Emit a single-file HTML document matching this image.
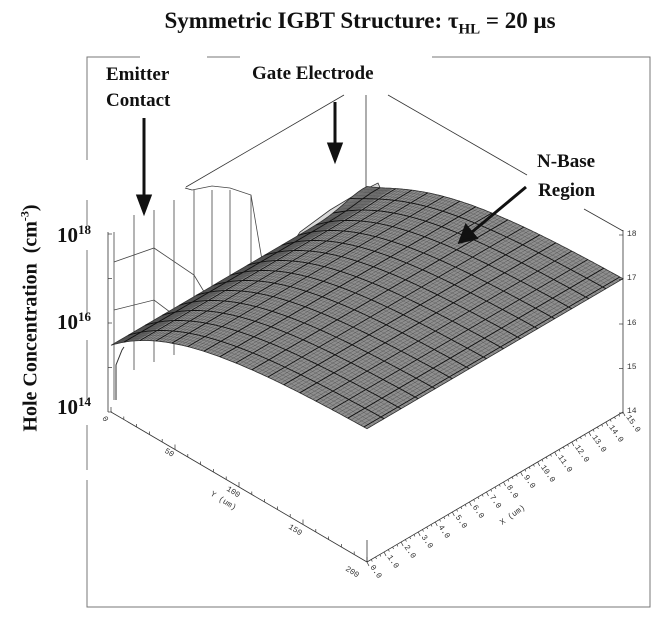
<!DOCTYPE html>
<html><head><meta charset="utf-8"><style>
html,body{margin:0;padding:0;background:#fff;}
body{width:659px;height:629px;overflow:hidden;position:relative;font-family:"Liberation Serif",serif;}
.t{position:absolute;font-weight:bold;color:#111;white-space:nowrap;}
</style></head><body>
<svg id="s" width="659" height="629" style="position:absolute;left:0;top:0" xmlns="http://www.w3.org/2000/svg">
<g stroke="#777" stroke-width="1" fill="none">
<polyline points="87,160 87,57 140,57"/><line x1="207" y1="57" x2="240" y2="57"/><polyline points="432,57 650,57 650,607 87,607 87,480"/>
<line x1="87" y1="200" x2="87" y2="225"/><line x1="87" y1="250" x2="87" y2="315"/><line x1="87" y1="340" x2="87" y2="400"/><line x1="87" y1="425" x2="87" y2="470"/>
</g>
<g id="axes" stroke="#333" stroke-width="0.8" fill="none">
<line x1="108" y1="232" x2="108" y2="412"/>
<line x1="623" y1="230" x2="623" y2="412"/>
<line x1="111" y1="412" x2="367" y2="562"/>
<line x1="367" y1="562" x2="623" y2="412"/>
<line x1="367" y1="562" x2="367" y2="540"/>
<line x1="366" y1="95" x2="366" y2="190"/>
<line x1="344" y1="95" x2="186" y2="187"/>
<line x1="388" y1="95" x2="527" y2="175"/>
<line x1="584" y1="209" x2="623" y2="231"/>
<line x1="185" y1="188" x2="192" y2="190"/>
</g>
<g id="mesh"></g>
<g id="ticks" stroke="#333" stroke-width="0.7"></g>
<g font-family="Liberation Mono,monospace" font-size="8" fill="#333">
<text x="627" y="236">18</text><text x="627" y="280">17</text><text x="627" y="325">16</text><text x="627" y="369">15</text><text x="627" y="413">14</text>
<text transform="translate(102,418) rotate(60)">0</text>
<text transform="translate(164,452) rotate(32)">50</text>
<text transform="translate(226,490) rotate(32)">100</text>
<text transform="translate(210,495) rotate(32)">Y (um)</text>
<text transform="translate(288,528) rotate(32)">150</text>
<text transform="translate(345,570) rotate(32)">200</text>
<text transform="translate(502,525) rotate(-35)">X (um)</text>
</g>
<g id="xl" font-family="Liberation Mono,monospace" font-size="8" fill="#333"></g>
<g stroke="#111" stroke-width="3" fill="#111">
<line x1="144" y1="118" x2="144" y2="198"/><polygon points="138,196 150,196 144,212"/>
<line x1="335" y1="102" x2="335" y2="146"/><polygon points="329,144 341,144 335,160"/>
<line x1="526" y1="187" x2="472" y2="232"/><polygon points="466,226 476,238 460,242"/>
</g>
</svg>
<div class="t" style="left:0;width:720px;text-align:center;top:8px;font-size:23px;">Symmetric IGBT Structure: τ<sub style="font-size:15px">HL</sub> = 20 μs</div>
<div class="t" style="left:106px;top:62px;font-size:19px;line-height:26px;">Emitter<br>Contact</div>
<div class="t" style="left:252px;top:63px;font-size:19px;">Gate Electrode</div>
<div class="t" style="left:537px;top:147px;font-size:19px;line-height:29px;text-align:right;">N-Base<br>Region</div>
<div class="t" style="left:57px;top:222px;font-size:21px;">10<sup style="font-size:13px">18</sup></div>
<div class="t" style="left:57px;top:309px;font-size:21px;">10<sup style="font-size:13px">16</sup></div>
<div class="t" style="left:57px;top:394px;font-size:21px;">10<sup style="font-size:13px">14</sup></div>
<div class="t" style="left:30px;top:318px;font-size:20px;transform:translate(-50%,-50%) rotate(-90deg);">Hole Concentration&nbsp; (cm<sup style="font-size:12px">-3</sup>)</div>
<script>
var NS="http://www.w3.org/2000/svg";
function P(x,y,z){return [111+256*y/200+256*x/15, 412+150*y/200-150*x/15-44.5*(z-14)];}
function Z(x,y){var z=15.5+1.55*(1-Math.exp(-y/60));
 z+=0.2*Math.exp(-Math.pow((x-14.8)/1.5,2))*Math.exp(-y/15);
 return z;}
var m=document.getElementById('mesh');
function el(t,a){var e=document.createElementNS(NS,t);for(var k in a)e.setAttribute(k,a[k]);m.appendChild(e);return e;}
var vx=[[114,232,400],[134,215,370],[154,210,362],[174,200,355],[194,190,345],[212,190,338],[230,190,330],[251,195,320]];
vx.forEach(function(v){el('line',{x1:v[0],y1:v[1],x2:v[0],y2:v[2],stroke:'#444','stroke-width':0.8});});
el('polyline',{points:'114,262 154,248 194,275 212,305 230,300 251,300 270,330',fill:'none',stroke:'#444','stroke-width':0.8});
el('polyline',{points:'114,310 154,300 194,330 230,350',fill:'none',stroke:'#444','stroke-width':0.8});
el('polyline',{points:'192,190 212,186 230,188 251,195 262,260 275,300',fill:'none',stroke:'#444','stroke-width':0.8});
el('polyline',{points:'116,400 116,365 122,350 124,347',fill:'none',stroke:'#333','stroke-width':1});
// gate hatched strip
el('polygon',{points:'288,250 300,232 330,210 360,192 378,183 382,192 340,215 300,243',fill:'#d8d8d8',stroke:'#333','stroke-width':0.8});
for(var k=0;k<14;k++){var a=288+k*6.5;el('line',{x1:a,y1:250-k*4.8,x2:a+4,y2:243-k*4.1,stroke:'#444','stroke-width':0.4});}
var pts=[],i,j;
for(i=0;i<=60;i++){var x=15*i/60;pts.push(P(x,0,Z(x,0)));}
for(j=0;j<=100;j++){var y=200*j/100;pts.push(P(15,y,Z(15,y)));}
for(i=60;i>=0;i--){var x=15*i/60;pts.push(P(x,200,Z(x,200)));}
for(j=100;j>=0;j--){var y=200*j/100;pts.push(P(0,y,Z(0,y)));}
el('polygon',{points:pts.map(function(p){return p[0].toFixed(1)+','+p[1].toFixed(1)}).join(' '),fill:'#8e8e8e',stroke:'#222','stroke-width':0.8});
function pl(s,c,w){el('polyline',{points:s.map(function(p){return p[0].toFixed(1)+','+p[1].toFixed(1)}).join(' '),fill:'none',stroke:c,'stroke-width':w});}
for(j=0;j<=200;j+=(j<20?1:2.5)){var s=[];for(i=0;i<=30;i++){var x=15*i/30;s.push(P(x,j,Z(x,j)));}pl(s,'#3a3a3a',0.35);}
for(i=0;i<=15;i+=0.25){var s=[];for(j=0;j<=80;j++){var y=200*j/80;s.push(P(i,y,Z(i,y)));}pl(s,'#4a4a4a',0.3);}
for(j=10;j<200;j+=12.5){var s=[];for(i=0;i<=30;i++){var x=15*i/30;s.push(P(x,j,Z(x,j)));}pl(s,'#111',0.9);}
for(i=1;i<15;i+=1){var s=[];for(j=0;j<=80;j++){var y=200*j/80;s.push(P(i,y,Z(i,y)));}pl(s,'#111',0.9);}
var tk=document.getElementById('ticks');
function tl(a,b,c,d){var e=document.createElementNS(NS,'line');e.setAttribute('x1',a);e.setAttribute('y1',b);e.setAttribute('x2',c);e.setAttribute('y2',d);tk.appendChild(e);}
for(var z=14;z<=18;z++){var yy=412-44.5*(z-14);tl(108,yy,112,yy);tl(619,yy+1,623,yy+1);}
for(var y=0;y<=200;y+=10){var p=P(0,y,14);tl(p[0],p[1],p[0],p[1]-(y%50==0?5:3));}
var xl=document.getElementById('xl');
for(var x=0;x<=15;x+=0.25){var p=P(x,200,14);tl(p[0],p[1],p[0]+(x%1==0?2:1),p[1]+(x%1==0?4:2));
 if(x%1==0){var t=document.createElementNS(NS,'text');t.setAttribute('transform','translate('+(p[0]+3)+','+(p[1]+5)+') rotate(55)');t.textContent=x.toFixed(1);xl.appendChild(t);}}
</script>
</body></html>
